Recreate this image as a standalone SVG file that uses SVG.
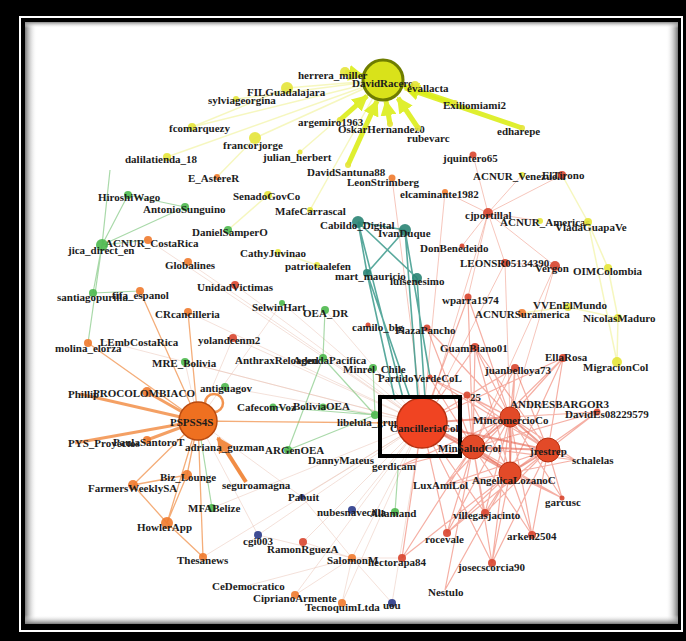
<svg xmlns="http://www.w3.org/2000/svg" width="686" height="641" viewBox="0 0 686 641">
<defs>
<style>
text{font-family:"Liberation Serif","Times New Roman",serif;font-weight:bold;font-size:11px;fill:#1c1c1c}
.y{fill:#e4e43a;opacity:.9}
.o{fill:#ef7a2e;opacity:.9}
.r{fill:#d8452e;opacity:.9}
.g{fill:#4cb84c;opacity:.9}
.t{fill:#2a8474;opacity:.9}
.b{fill:#2a3a8a;opacity:.9}
.ay{stroke:#dcee1a;stroke-width:5;fill:none;marker-end:url(#mY);opacity:.9}
.ey{stroke:#eef080;stroke-width:1.5;fill:none;opacity:.5}
.et{stroke:#3c9a8c;stroke-width:1.6;fill:none;opacity:.85}
.eh{stroke:#e0503a;stroke-width:2;fill:none;opacity:.55}
.er{stroke:#ec604a;stroke-width:1.2;fill:none;opacity:.5}
.ep{stroke:#f0a090;stroke-width:1;fill:none;opacity:.6}
.ef{stroke:#e8c0b0;stroke-width:.8;fill:none;opacity:.6}
.eo{stroke:#f08a40;stroke-width:1.3;fill:none;opacity:.7}
.eO{stroke:#f08030;stroke-width:3;fill:none;opacity:.75}
.eg{stroke:#70c070;stroke-width:1.2;fill:none;opacity:.6}
</style>
<marker id="mY" viewBox="0 0 10 10" refX="9" refY="5" markerWidth="16" markerHeight="16" markerUnits="userSpaceOnUse" orient="auto"><path d="M0 0L10 5L0 10z" fill="#dcee1a"/></marker>
<marker id="mO" viewBox="0 0 10 10" refX="9" refY="5" markerWidth="16" markerHeight="16" markerUnits="userSpaceOnUse" orient="auto"><path d="M0 0L10 5L0 10z" fill="#f08030"/></marker>
<linearGradient id="shL" x1="0" x2="1" y1="0" y2="0"><stop offset="0" stop-color="#777"/><stop offset="1" stop-color="#fff" stop-opacity="0"/></linearGradient>
<linearGradient id="shR" x1="1" x2="0" y1="0" y2="0"><stop offset="0" stop-color="#777"/><stop offset="1" stop-color="#fff" stop-opacity="0"/></linearGradient>
<linearGradient id="shT" x1="0" x2="0" y1="0" y2="1"><stop offset="0" stop-color="#888"/><stop offset="1" stop-color="#fff" stop-opacity="0"/></linearGradient>
<linearGradient id="shB" x1="0" x2="0" y1="1" y2="0"><stop offset="0" stop-color="#777"/><stop offset="1" stop-color="#fff" stop-opacity="0"/></linearGradient>
</defs>
<g id="frame">
<rect width="686" height="641" fill="#000"/>
<rect x="20" y="17" width="662" height="614" fill="none" stroke="#fff" stroke-width="2"/>
<rect x="25" y="22" width="653" height="602" fill="#fff"/>
<rect x="25" y="22" width="12" height="602" fill="url(#shL)"/>
<rect x="666" y="22" width="12" height="602" fill="url(#shR)"/>
<rect x="25" y="22" width="653" height="6" fill="url(#shT)"/>
<rect x="25" y="615" width="653" height="9" fill="url(#shB)"/>
</g>
<g id="edges">
<path class="ef" d="M422 423L282 303M422 423L325 310M422 423L185 362M422 423L225 387M422 423L233 338M422 423L235 285M422 423L188 312M422 423L100 340M422 423L302 497M422 423L352 510M422 423L258 535M422 423L303 542M422 423L352 558M422 423L295 595M422 423L342 603M422 423L392 603M422 423L203 557M422 423L212 508M422 423L148 240M422 423L188 262M352 558L295 595M352 558L342 603M352 558L392 603M352 558L303 542M352 558L402 558M352 558L258 535M352 558L250 585M352 558L302 497M198 421L233 338M198 421L185 362M198 421L282 303M198 421L258 535M198 421L302 497"/>
<path class="ey" d="M383 80L236 99M383 80L192 127M383 80L255 138M383 80L167 157M383 80L287 88M383 80L300 152M383 80L310 210M287 88L192 127M255 138L217 177M588 222L608 268M608 268L618 318M568 307L618 318M617 362L618 318M562 175L588 222M522 313L568 307M588 222L617 362M268 195L228 230M278 252L317 265"/>
<path class="eg" d="M102 245L93 293M102 245L128 195M102 245L185 207M102 245L148 240M93 293L140 291M102 245L110 170M128 195L185 207M102 245L88 343M375 415L323 358M375 415L373 368M375 415L273 407M375 415L323 407M375 415L288 450M323 358L325 310M323 358L288 450M395 512L398 470M212 508L198 421"/>
<path class="ep" d="M488 213L473 155M488 213L445 192M488 213L562 175M488 213L522 175M488 213L505 263M488 213L555 266M488 213L462 246M488 213L432 399M488 213L468 297M488 213L540 221M505 263L555 266M505 263L435 400M505 263L510 417M555 266L473 447M555 266L510 417M445 192L425 400M392 178L420 398"/>
<path class="eo" d="M198 421L133 485M198 421L167 523M198 421L187 475M198 421L88 343M198 421L203 557M198 421L398 423M198 421L140 291M198 421L188 312M167 523L133 485M187 475L133 485M203 557L167 523M187 475L167 523"/>
<path class="eO" d="M198 421L147 392M198 421L147 440M198 421L80 394M198 421L75 443"/>
<path class="et" d="M358 222L405 230M358 222L417 278M358 222L367 273M405 230L367 273M358 222L403 398M405 230L418 398M367 273L410 398M417 278L425 398M405 230L430 377M367 273L395 400"/>
<path class="eh" d="M422 423L510 417M422 423L473 447M422 423L548 450M422 423L510 473M510 417L473 447M510 417L548 450M510 417L510 473M473 447L548 450M473 447L510 473M548 450L510 473"/>
<path class="er" d="M563 358L510 417M563 358L473 447M563 358L548 450M563 358L510 473M563 358L422 423M515 368L510 417M515 368L473 447M515 368L548 450M515 368L510 473M515 368L422 423M475 347L510 417M475 347L473 447M475 347L510 473M475 347L422 423M475 347L548 450M467 395L510 417M467 395L473 447M467 395L548 450M467 395L510 473M597 412L510 417M597 412L473 447M597 412L510 473M597 412L548 450M575 460L548 450M575 460L510 417M575 460L510 473M575 460L473 447M562 498L510 417M562 498L473 447M562 498L548 450M562 498L510 473M562 498L422 423M532 535L510 417M532 535L473 447M532 535L548 450M532 535L510 473M485 513L510 417M485 513L473 447M485 513L548 450M485 513L510 473M485 513L422 423M447 533L510 417M447 533L473 447M447 533L548 450M447 533L510 473M447 533L422 423M492 563L510 417M492 563L473 447M492 563L548 450M492 563L510 473M492 563L422 423M445 485L473 447M445 485L510 473M445 485L510 417M445 485L548 450M400 466L473 447M400 466L510 417M430 378L473 447M430 378L510 417M430 378L548 450M468 297L422 423M468 297L473 447M468 297L510 417M445 590L473 447M445 590L510 473M402 558L473 447M402 558L510 473M402 558L422 423M427 328L473 447M427 328L510 417"/>
<line class="ay" x1="345" y1="72" x2="363" y2="76"/>
<line class="ay" x1="340" y1="120" x2="367" y2="96"/>
<line class="ay" x1="348" y1="165" x2="377" y2="101"/>
<line class="ay" x1="390" y1="124" x2="386" y2="101"/>
<line class="ay" x1="418" y1="128" x2="398" y2="98"/>
<line class="ay" x1="455" y1="103" x2="404" y2="86"/>
<line class="ay" x1="522" y1="128" x2="405" y2="88"/>
<line x1="246" y1="482" x2="218" y2="438" stroke="#f08030" stroke-width="4" marker-end="url(#mO)" opacity=".9"/>
<circle cx="214" cy="403" r="9" fill="none" stroke="#f08030" stroke-width="2.5" opacity=".85"/>
</g>
<g id="n-DavidRacero"><circle cx="383" cy="80" r="20" fill="#d9e21a" stroke="#6f7d00" stroke-width="3"/><text x="352" y="87">DavidRacero</text></g>
<g id="n-herrera_miller"><circle class="y" cx="345" cy="72" r="5"/><text x="298" y="79">herrera_miller</text></g>
<g id="n-evallacta"><circle class="y" cx="415" cy="85" r="4"/><text x="407" y="92">evallacta</text></g>
<g id="n-Exiliomiami2"><circle class="y" cx="455" cy="103" r="3"/><text x="443" y="109">Exiliomiami2</text></g>
<g id="n-edharepe"><circle class="y" cx="522" cy="128" r="3"/><text x="497" y="135">edharepe</text></g>
<g id="n-sylviageorgina"><circle class="y" cx="236" cy="99" r="3"/><text x="208" y="104">sylviageorgina</text></g>
<g id="n-FILGuadalajara"><circle class="y" cx="287" cy="88" r="6"/><text x="247" y="96">FILGuadalajara</text></g>
<g id="n-fcomarquezy"><circle class="y" cx="192" cy="127" r="4"/><text x="169" y="132">fcomarquezy</text></g>
<g id="n-francorjorge"><circle class="y" cx="255" cy="138" r="6"/><text x="223" y="149">francorjorge</text></g>
<g id="n-argemiro1963"><circle class="y" cx="340" cy="120" r="3"/><text x="298" y="126">argemiro1963</text></g>
<g id="n-OskarHernandez0"><circle class="y" cx="390" cy="124" r="3"/><text x="338" y="133">OskarHernandez0</text></g>
<g id="n-rubevarc"><circle class="y" cx="418" cy="128" r="3"/><text x="407" y="142">rubevarc</text></g>
<g id="n-julian_herbert"><circle class="y" cx="300" cy="152" r="2.5"/><text x="263" y="161">julian_herbert</text></g>
<g id="n-dalilatienda_18"><circle class="y" cx="167" cy="157" r="4"/><text x="125" y="163">dalilatienda_18</text></g>
<g id="n-jquintero65"><circle class="r" cx="473" cy="155" r="3.5"/><text x="443" y="162">jquintero65</text></g>
<g id="n-DavidSantuna88"><circle class="y" cx="348" cy="165" r="3"/><text x="307" y="176">DavidSantuna88</text></g>
<g id="n-LeonStrimberg"><circle class="o" cx="392" cy="178" r="3.5"/><text x="347" y="186">LeonStrimberg</text></g>
<g id="n-ACNUR_Venezuela"><circle class="y" cx="522" cy="175" r="3"/><text x="473" y="180">ACNUR_Venezuela</text></g>
<g id="n-ElTirono"><circle class="r" cx="562" cy="175" r="4"/><text x="542" y="179">ElTirono</text></g>
<g id="n-E_AstereR"><circle class="o" cx="217" cy="177" r="3"/><text x="188" y="182">E_AstereR</text></g>
<g id="n-elcaminante1982"><circle class="o" cx="445" cy="192" r="3"/><text x="400" y="198">elcaminante1982</text></g>
<g id="n-HiroshiWago"><circle class="g" cx="128" cy="195" r="4"/><text x="98" y="201">HiroshiWago</text></g>
<g id="n-SenadoGovCo"><circle class="y" cx="268" cy="195" r="4"/><text x="233" y="200">SenadoGovCo</text></g>
<g id="n-AntonioSunguino"><circle class="g" cx="185" cy="207" r="4"/><text x="143" y="213">AntonioSunguino</text></g>
<g id="n-MafeCarrascal"><circle class="y" cx="310" cy="210" r="3"/><text x="275" y="215">MafeCarrascal</text></g>
<g id="n-cjportillal"><circle class="r" cx="488" cy="213" r="5"/><text x="465" y="219">cjportillal</text></g>
<g id="n-ACNUR_Americas"><circle class="y" cx="540" cy="221" r="3"/><text x="500" y="226">ACNUR_Americas</text></g>
<g id="n-Cabildo_Digital"><circle class="t" cx="358" cy="222" r="6"/><text x="320" y="229">Cabildo_Digital</text></g>
<g id="n-VladaGuapaVe"><circle class="y" cx="588" cy="222" r="4"/><text x="555" y="231">VladaGuapaVe</text></g>
<g id="n-DanielSamperO"><circle class="g" cx="228" cy="230" r="4"/><text x="192" y="236">DanielSamperO</text></g>
<g id="n-IvanDuque"><circle class="t" cx="405" cy="230" r="6"/><text x="378" y="237">IvanDuque</text></g>
<g id="n-ACNUR_CostaRica"><circle class="o" cx="148" cy="240" r="4"/><text x="105" y="247">ACNUR_CostaRica</text></g>
<g id="n-DonBenedeido"><circle class="r" cx="462" cy="246" r="2.5"/><text x="420" y="252">DonBenedeido</text></g>
<g id="n-jica_direct_en"><circle class="g" cx="102" cy="245" r="6"/><text x="68" y="254">jica_direct_en</text></g>
<g id="n-CathyJuvinao"><circle class="y" cx="278" cy="252" r="3"/><text x="240" y="257">CathyJuvinao</text></g>
<g id="n-LEONSR05134390"><circle class="r" cx="505" cy="263" r="4"/><text x="460" y="267">LEONSR05134390</text></g>
<g id="n-Globalines"><circle class="o" cx="188" cy="262" r="4"/><text x="165" y="269">Globalines</text></g>
<g id="n-patriotaalefen"><circle class="y" cx="317" cy="265" r="3"/><text x="285" y="270">patriotaalefen</text></g>
<g id="n-Vergon"><circle class="r" cx="555" cy="266" r="5"/><text x="535" y="272">Vergon</text></g>
<g id="n-OIMColombia"><circle class="y" cx="608" cy="268" r="4"/><text x="573" y="275">OIMColombia</text></g>
<g id="n-mart_mauricio"><circle class="t" cx="367" cy="273" r="4"/><text x="335" y="280">mart_mauricio</text></g>
<g id="n-luisenesimo"><circle class="t" cx="417" cy="278" r="5"/><text x="390" y="285">luisenesimo</text></g>
<g id="n-UnidadVictimas"><circle class="r" cx="235" cy="285" r="4"/><text x="197" y="291">UnidadVictimas</text></g>
<g id="n-santiagopurilla"><circle class="g" cx="93" cy="293" r="4"/><text x="57" y="301">santiagopurilla</text></g>
<g id="n-fifa_espanol"><circle class="o" cx="140" cy="291" r="4"/><text x="112" y="299">fifa_espanol</text></g>
<g id="n-wparra1974"><circle class="r" cx="468" cy="297" r="3.5"/><text x="442" y="304">wparra1974</text></g>
<g id="n-VVEnElMundo"><circle class="y" cx="568" cy="307" r="4"/><text x="533" y="309">VVEnElMundo</text></g>
<g id="n-SelwinHart"><circle class="g" cx="282" cy="303" r="3"/><text x="252" y="311">SelwinHart</text></g>
<g id="n-OEA_DR"><circle class="g" cx="325" cy="310" r="4"/><text x="303" y="317">OEA_DR</text></g>
<g id="n-CRcancilleria"><circle class="o" cx="188" cy="312" r="4"/><text x="155" y="318">CRcancilleria</text></g>
<g id="n-ACNURSuramerica"><circle class="o" cx="522" cy="313" r="4"/><text x="475" y="318">ACNURSuramerica</text></g>
<g id="n-NicolasMaduro"><circle class="y" cx="618" cy="318" r="4"/><text x="583" y="322">NicolasMaduro</text></g>
<g id="n-camilo_blg"><circle class="r" cx="368" cy="325" r="2.5"/><text x="352" y="331">camilo_blg</text></g>
<g id="n-PlazaPancho"><circle class="r" cx="427" cy="328" r="3.5"/><text x="395" y="334">PlazaPancho</text></g>
<g id="n-yolandcenm2"><circle class="r" cx="233" cy="338" r="4"/><text x="198" y="344">yolandcenm2</text></g>
<g id="n-LEmbCostaRica"><text x="100" y="346">LEmbCostaRica</text></g>
<g id="n-molina_elorza"><circle class="o" cx="88" cy="343" r="4"/><text x="55" y="352">molina_elorza</text></g>
<g id="n-GuamBiano01"><circle class="r" cx="475" cy="347" r="4"/><text x="440" y="352">GuamBiano01</text></g>
<g id="n-EllaRosa"><circle class="r" cx="563" cy="358" r="4"/><text x="545" y="361">EllaRosa</text></g>
<g id="n-AnthraxReloaded"><text x="235" y="364">AnthraxReloaded</text></g>
<g id="n-AgendaPacifica"><circle class="g" cx="323" cy="358" r="4"/><text x="293" y="364">AgendaPacifica</text></g>
<g id="n-MRE_Bolivia"><circle class="g" cx="185" cy="362" r="4"/><text x="152" y="367">MRE_Bolivia</text></g>
<g id="n-MigracionCol"><circle class="y" cx="617" cy="362" r="5"/><text x="583" y="371">MigracionCol</text></g>
<g id="n-Minrel_Chile"><circle class="g" cx="373" cy="368" r="4"/><text x="343" y="373">Minrel_Chile</text></g>
<g id="n-juanbelloya73"><circle class="r" cx="515" cy="368" r="4"/><text x="485" y="374">juanbelloya73</text></g>
<g id="n-PartidoVerdeCoL"><circle class="r" cx="430" cy="377" r="2.5"/><text x="378" y="382">PartidoVerdeCoL</text></g>
<g id="n-antiguagov"><circle class="g" cx="225" cy="387" r="4"/><text x="200" y="392">antiguagov</text></g>
<g id="n-Phillip"><text x="68" y="398">Phillip</text></g>
<g id="n-PROCOLOMBIACO"><circle class="o" cx="147" cy="392" r="5"/><text x="93" y="397">PROCOLOMBIACO</text></g>
<g id="n-25"><circle class="r" cx="467" cy="395" r="3.5"/><text x="470" y="401">25</text></g>
<g id="n-ANDRESBARGOR3"><text x="510" y="408">ANDRESBARGOR3</text></g>
<g id="n-CafecomVoz"><circle class="g" cx="273" cy="407" r="3.5"/><text x="237" y="411">CafecomVoz</text></g>
<g id="n-BoliviaOEA"><circle class="g" cx="323" cy="407" r="3.5"/><text x="293" y="410">BoliviaOEA</text></g>
<g id="n-DavidEs08229579"><circle class="r" cx="597" cy="412" r="3.5"/><text x="565" y="418">DavidEs08229579</text></g>
<g id="n-MincomercioCo"><circle cx="510" cy="417" r="10" fill="#e24a28" stroke="#b83010"/><text x="473" y="424">MincomercioCo</text></g>
<g id="n-PSPSS4S"><circle cx="198" cy="421" r="19" fill="#ef7020" stroke="#b84a10" stroke-width="1.5"/><text x="170" y="426">PSPSS4S</text></g>
<g id="n-libelula_grupo"><circle class="g" cx="375" cy="415" r="4"/><text x="337" y="426">libelula_grupo</text></g>
<g id="n-CancilleriaCol"><circle cx="422" cy="423" r="25" fill="#f04422" stroke="#b83010" stroke-width="1.5"/><rect x="380" y="397" width="80" height="59" fill="none" stroke="#000" stroke-width="4"/><text x="390" y="432">CancilleriaCol</text></g>
<g id="n-PaulaSantoroT"><circle class="o" cx="147" cy="440" r="4"/><text x="113" y="446">PaulaSantoroT</text></g>
<g id="n-PYS_Proyectos"><text x="68" y="447">PYS_Proyectos</text></g>
<g id="n-adriana_guzman"><text x="185" y="451">adriana_guzman</text></g>
<g id="n-MinSaludCol"><circle cx="473" cy="447" r="12" fill="#e24a28" stroke="#b83010"/><text x="438" y="452">MinSaludCol</text></g>
<g id="n-ARGenOEA"><circle class="g" cx="288" cy="450" r="4"/><text x="265" y="454">ARGenOEA</text></g>
<g id="n-jrestrep"><circle cx="548" cy="450" r="12" fill="#e24a28" stroke="#b83010"/><text x="530" y="455">jrestrep</text></g>
<g id="n-DannyMateus"><text x="308" y="464">DannyMateus</text></g>
<g id="n-schalelas"><text x="572" y="464">schalelas</text></g>
<g id="n-gerdicam"><text x="372" y="470">gerdicam</text></g>
<g id="n-Biz_Lounge"><circle class="o" cx="187" cy="475" r="5"/><text x="160" y="481">Biz_Lounge</text></g>
<g id="n-AngelicaLozanoC"><circle cx="510" cy="473" r="11" fill="#e24a28" stroke="#b83010"/><text x="472" y="484">AngelicaLozanoC</text></g>
<g id="n-seguroamagna"><text x="222" y="489">seguroamagna</text></g>
<g id="n-LuxAmiLol"><text x="413" y="489">LuxAmiLol</text></g>
<g id="n-FarmersWeeklySA"><circle class="o" cx="133" cy="485" r="5"/><text x="88" y="492">FarmersWeeklySA</text></g>
<g id="n-Pabuit"><circle class="b" cx="302" cy="497" r="3"/><text x="288" y="501">Pabuit</text></g>
<g id="n-garcusc"><circle class="r" cx="562" cy="498" r="2.5"/><text x="545" y="506">garcusc</text></g>
<g id="n-MFABelize"><circle class="g" cx="212" cy="508" r="4"/><text x="188" y="512">MFABelize</text></g>
<g id="n-nubesnavecilla"><circle class="b" cx="352" cy="510" r="4"/><text x="317" y="516">nubesnavecilla</text></g>
<g id="n-Allamand"><circle class="g" cx="395" cy="512" r="4"/><text x="370" y="517">Allamand</text></g>
<g id="n-villegasjacinto"><circle class="r" cx="485" cy="513" r="4"/><text x="453" y="519">villegasjacinto</text></g>
<g id="n-HowlerApp"><circle class="o" cx="167" cy="523" r="6"/><text x="137" y="531">HowlerApp</text></g>
<g id="n-arken2504"><circle class="r" cx="532" cy="535" r="4"/><text x="507" y="540">arken2504</text></g>
<g id="n-rocevale"><circle class="r" cx="447" cy="533" r="4"/><text x="425" y="543">rocevale</text></g>
<g id="n-cgi003"><circle class="b" cx="258" cy="535" r="4"/><text x="243" y="545">cgi003</text></g>
<g id="n-RamonRguezA"><circle class="r" cx="303" cy="542" r="4"/><text x="267" y="553">RamonRguezA</text></g>
<g id="n-Thesanews"><circle class="o" cx="203" cy="557" r="4"/><text x="177" y="564">Thesanews</text></g>
<g id="n-SalomonM"><circle class="o" cx="352" cy="558" r="4"/><text x="327" y="564">SalomonM</text></g>
<g id="n-hectorapa84"><circle class="r" cx="402" cy="558" r="4"/><text x="368" y="566">hectorapa84</text></g>
<g id="n-josecscorcia90"><circle class="r" cx="492" cy="563" r="4"/><text x="458" y="571">josecscorcia90</text></g>
<g id="n-CeDemocratico"><text x="212" y="590">CeDemocratico</text></g>
<g id="n-Nestulo"><text x="428" y="596">Nestulo</text></g>
<g id="n-CiprianoArmente"><circle class="o" cx="295" cy="595" r="4"/><text x="253" y="602">CiprianoArmente</text></g>
<g id="n-uou"><circle class="b" cx="392" cy="603" r="4"/><text x="383" y="609">uou</text></g>
<g id="n-TecnoquimLtda"><circle class="o" cx="342" cy="603" r="4"/><text x="305" y="611">TecnoquimLtda</text></g>
</svg>
